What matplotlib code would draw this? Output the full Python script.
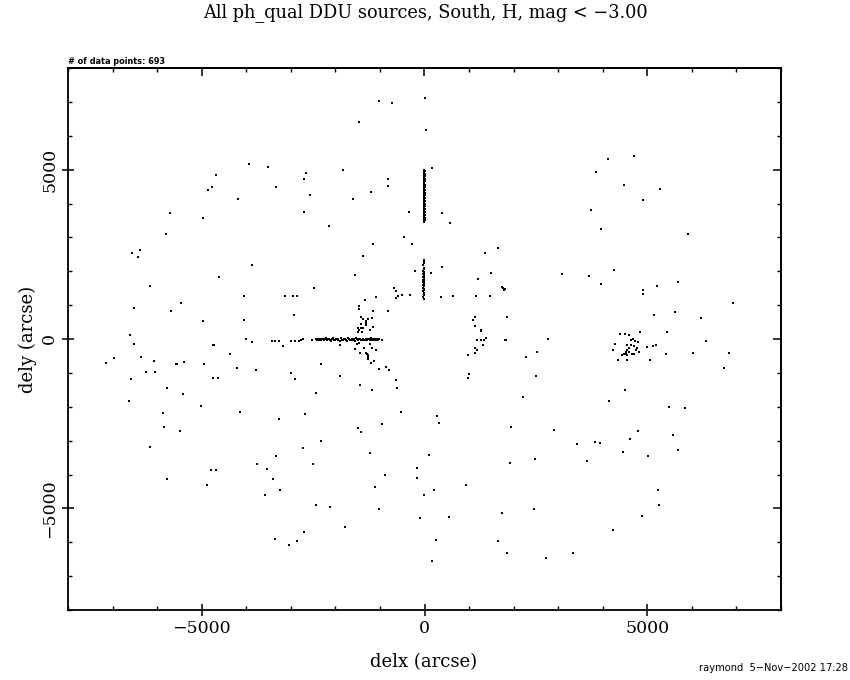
import matplotlib
matplotlib.use("Agg")
import matplotlib.pyplot as plt
from matplotlib.ticker import MultipleLocator, FixedLocator, NullFormatter

# ---------------- data (arcsec) ----------------
west_x = [-3930, -3520, -2660, -2710, -4690, -4760, -4850, -3340, -4190, -5720, -4960, -2710,
          -5790, -6570, -6430, -6380, -3880, -4610, -6170, -4040, -3120, -2960, -2870, -6530,
          -5470, -5680, -2930, -4980, -4060, -6600, -4010, -2720,
          -6530, -7140, -6960, -6355, -6060, -6240, -6040, -6580, -5580, -5545, -5390, -5770,
          -5410, -6640, -4940, -4750, -4715, -4735, -4645, -5020, -4375, -4215, -4130, -3860,
          -3785, -3420, -3360, -3255, -3165, -3000, -2895, -2820, -2770, -2985, -2895, -2685,
          -3275, -5875, -5855, -5480, -6150, -2730, -3335, -3765, -3540, -4800, -4690, -5770,
          -3410, -4870, -3245, -3585, -2710, -3365, -2870, -3030]
west_y = [5160, 5070, 4890, 4710, 4830, 4480, 4390, 4480, 4120, 3710, 3560, 3760,
          3110, 2530, 2430, 2620, 2180, 1840, 1550, 1260, 1270, 1260, 1280, 910,
          1060, 820, 700, 525, 555, 110, 5, 5,
          -160, -720, -575, -535, -655, -960, -980, -1195, -745, -745, -685, -1460,
          -1630, -1835, -745, -170, -185, -1165, -1165, -1990, -455, -850, -2160, -75,
          -920, -65, -65, -65, -210, -45, -45, -65, -35, -1010, -1195, -2200,
          -2365, -2190, -2610, -2720, -3190, -3220, -3460, -3700, -3840, -3870, -3870, -4125,
          -4135, -4315, -4450, -4610, -5700, -5905, -5975, -6090]

north_x = [-1010, -730, 10, -1460, 25, 170, -1840, -810, -810, -1210, -2570, -1610,
           -350, 390, 580, -2150, -460, -280, -1160, 1645, 1350, -1390, 390, -205,
           155, 1495, -1570, 1200, -2470, -685, -635, 1735, 1810, 1765, 1790, -1090,
           -650, -590, -500, -325, 375, 635, 1150, 1470, -1345, -1480, -1480, -1165,
           -825, -1425, -1380, -1275, -1185, 1135, 1085, 1855, -1320, -1320, -1320, -1435,
           -1490, -1425, -1380, 1135, 1265, -1155, -1230, 1375, -1490, -1410, -1470]
north_y = [7015, 6960, 7100, 6410, 6160, 5040, 4990, 4710, 4520, 4350, 4240, 4120,
           3760, 3730, 3420, 3330, 3000, 2810, 2800, 2700, 2540, 2440, 2120, 2010,
           1940, 1940, 1880, 1765, 1520, 1500, 1410, 1530, 1480, 1505, 1445, 1230,
           1225, 1275, 1290, 1290, 1235, 1255, 1255, 1255, 1145, 970, 890, 820,
           820, 655, 595, 595, 615, 645, 565, 635, 525, 480, 400, 455,
           330, 330, 330, 380, 280, 350, 260, 35, 210, 210, 280]

south_x = [-2535, -960, -1885, -1470, -1510, -1230, -1560, -1360, -1185, -1090, -1450, -1320,
           -1275, -1265, -1285, -1270, -1135, -1210, -2330, -1030, -865, -805, -1900, -640,
           -1450, -625, -1180, -2445, -530, -960, -1500, -1425, -2330, -1230, -2505, -880,
           -1110, -2445, -2130, -1020, -1795, 275, 320, 95, -175, -175, 215, -20,
           -110, 550, 250, 170, 1265, 1185, 1265, 1335, 1130, 1175, 1310, 1130,
           980, 1810, 1830, 1005, 980, 2280, 2530, 2500, 2780, 2205, 1945, 2475,
           1915, 925, 1735, 2460, 1650, 1845, 2725]
south_y = [-15, -15, -185, -110, -160, -160, -290, -280, -280, -310, -405, -405,
           -485, -585, -455, -525, -635, -715, -750, -900, -820, -920, -1100, -1225,
           -1365, -1460, -1510, -1590, -2160, -2520, -2640, -2750, -3015, -3370, -3700, -4020,
           -4370, -4905, -4960, -5030, -5550, -2280, -2490, -3410, -3810, -4105, -4450, -4610,
           -5295, -5255, -5935, -6555, 230, -35, -35, -35, -280, -310, -185, -405,
           -480, -35, -35, -1025, -1165, -535, -390, -1105, 5, -1715, -2610, -3545,
           -3665, -4315, -5150, -5020, -5965, -6320, -6465]

east_x = [4710, 4115, 3845, 4485, 5285, 4910, 3735, 3965, 5915, 4250, 3085, 3690,
          5690, 3950, 5220, 4910, 4895, 6925, 5620, 5150, 6215, 4385, 4505, 4580,
          4840, 5450, 4670,
          4640, 4715, 4790, 4280, 4550, 4635, 4700, 4760, 4580, 4230, 4535, 4595,
          4745, 4805, 4485, 4430, 4535, 4655, 4705, 4340, 4555, 4995, 5135, 5195,
          5060, 5420, 6025, 6835, 6320, 6725, 4530, 4530,
          4505, 4150, 5485, 5845, 2905, 4790, 5575, 4620, 3425, 3825, 3935, 5690,
          4455, 5015, 3650, 5240, 5270, 4885, 4235, 3330]
east_y = [5410, 5305, 4940, 4560, 4420, 4105, 3800, 3240, 3090, 2030, 1910, 1850,
          1675, 1610, 1550, 1440, 1320, 1075, 810, 720, 625, 160, 135, 105,
          200, 220, 5,
          -15, -55, -95, -135, -190, -190, -210, -260, -260, -310, -330, -370,
          -330, -370, -430, -485, -485, -450, -450, -625, -625, -240, -210, -185,
          -625, -450, -420, -420, -65, -860, -385, -440,
          -1520, -1835, -2010, -2050, -2690, -2720, -2840, -2955, -3090, -3055, -3060, -3270,
          -3340, -3460, -3615, -4460, -4905, -5235, -5650, -6320]

# dense strip along dely ~ 0 (west of centre)
strip_h_x = [-2440, -2415, -2395, -2370, -2350, -2330, -2300, -2280, -2255, -2230, -2210, -2185,
             -2160, -2140, -2115, -2090, -2070, -2045, -2020, -2000, -1975, -1950, -1930, -1905,
             -1880, -1860, -1835, -1810, -1790, -1765, -1740, -1720, -1695, -1670, -1650, -1625,
             -1600, -1580, -1555, -1530, -1510, -1485, -1460, -1440, -1415, -1390, -1370, -1345,
             -1320, -1300, -1275, -1250, -1230, -1205, -1180, -1160, -1135, -1110, -1090, -1065,
             -1040, -1020]
strip_h_y = [0, -30, 10, -20, 0, -40, 10, -10, -30, 0, 20, -40,
             -10, 10, -30, -50, 0, 20, -20, -40, 10, -30, 0, -50,
             20, -20, -40, 0, 10, -30, -50, 20, 0, -20, -40, 10,
             -30, 0, -50, 20, -10, -40, 0, 10, -30, -20, 0, -40,
             10, -30, -10, 0, -40, 20, -20, 0, -30, 10, -20, 0,
             -30, -10]

# dense strips along delx ~ 0 (north of centre)
strip_v1_y = [3450, 3480, 3510, 3540, 3570, 3600, 3630, 3660, 3690, 3720, 3750, 3780,
              3810, 3840, 3870, 3900, 3930, 3960, 3990, 4020, 4050, 4080, 4110, 4140,
              4170, 4200, 4230, 4260, 4290, 4320, 4350, 4380, 4410, 4440, 4470, 4500,
              4530, 4560, 4590, 4620, 4650, 4680, 4710, 4740, 4770, 4800, 4830, 4860,
              4890, 4920, 4950, 4980, 5000]
strip_v1_x = [-10, -20, 0, -10, 0, -20, -10, 0, -10, -20, 0, -10,
              -20, 0, -20, -10, 0, -20, 0, -20, -10, 0, -10, -20,
              0, -10, -20, 0, -20, 0, -10, -20, 0, -20, -10, 0,
              -20, 0, -20, -10, 0, -20, 0, -20, -10, 0, -20, 0,
              -10, -20, 0, -20, -10]
strip_v2_y = [1170, 1240, 1300, 1360, 1430, 1460, 1490, 1520, 1550, 1580, 1610, 1640,
              1670, 1700, 1730, 1760, 1790, 1820, 1850, 1880, 1910, 1940, 1970, 2000,
              2060, 2110, 2170, 2230, 2290, 2340]
strip_v2_x = [-20, -30, -10, -20, -30, -10, -20, -30, -10, -30, -20, -10,
              -30, -20, -30, -10, -20, -30, -10, -20, -30, -10, -20, -30,
              -20, -10, -30, -20, -10, -20]

n_points_label = "# of data points: 693"

# ---------------- figure ----------------
serif = ["DejaVu Serif"]
fig = plt.figure(figsize=(8.5, 6.8), dpi=100)
ax = fig.add_axes([68 / 850, 1 - 610 / 680, (781 - 68) / 850, (610 - 68) / 680])

all_x = west_x + north_x + south_x + east_x + strip_h_x + strip_v1_x + strip_v2_x
all_y = west_y + north_y + south_y + east_y + strip_h_y + strip_v1_y + strip_v2_y
ax.scatter(all_x, all_y, s=1.7, marker="s", c="black", linewidths=0, antialiased=False)

ax.set_xlim(-8000, 8000)
ax.set_ylim(-8000, 8000)

for sp in ax.spines.values():
    sp.set_linewidth(1.3)

ax.xaxis.set_major_locator(FixedLocator([-5000, 0, 5000]))
ax.yaxis.set_major_locator(FixedLocator([-5000, 0, 5000]))
ax.xaxis.set_minor_locator(MultipleLocator(1000))
ax.yaxis.set_minor_locator(MultipleLocator(1000))
ax.set_xticklabels(["\u22125000", "0", "5000"])
ax.set_yticklabels(["\u22125000", "0", "5000"])
ax.tick_params(which="major", direction="inout", length=8, width=1.1, labelsize=12.5, pad=3.5)
ax.tick_params(which="minor", direction="in", length=3.2, width=1.0)
ax.tick_params(axis="y", pad=3)
for lab in ax.get_xticklabels():
    lab.set_family(serif)
for lab in ax.get_yticklabels():
    lab.set_family(serif)
    lab.set_rotation(90)
    lab.set_va("center")

for which_ax, loc in (("x", "top"), ("y", "right")):
    if which_ax == "x":
        sec = ax.secondary_xaxis(loc)
        axis = sec.xaxis
    else:
        sec = ax.secondary_yaxis(loc)
        axis = sec.yaxis
    axis.set_major_locator(FixedLocator([-5000, 0, 5000]))
    axis.set_minor_locator(MultipleLocator(1000))
    axis.set_major_formatter(NullFormatter())
    sec.tick_params(which="major", direction="in", length=5.5, width=1.1)
    sec.tick_params(which="minor", direction="in", length=3.2, width=1.0)
    sec.spines[loc].set_linewidth(1.3)

fig.text(425 / 850, 1 - 13 / 680, "All ph_qual DDU sources, South, H, mag < \u22123.00",
         ha="center", va="center", fontsize=12.8, family=serif)
fig.text(424 / 850, 1 - 662 / 680, "delx (arcse)", ha="center", va="center",
         fontsize=13, family=serif)
fig.text(28 / 850, 1 - 339 / 680, "dely (arcse)", ha="center", va="center",
         rotation=90, fontsize=13, family=serif)
fig.text(68 / 850, 1 - 62 / 680, n_points_label, ha="left", va="center",
         fontsize=5.9, fontweight="bold", family=["DejaVu Sans"])
fig.text(848 / 850, 1 - 668 / 680, "raymond  5\u2212Nov\u22122002 17:28", ha="right",
         va="center", fontsize=7.1, family=["DejaVu Sans"])

fig.savefig("out.png", dpi=100)
